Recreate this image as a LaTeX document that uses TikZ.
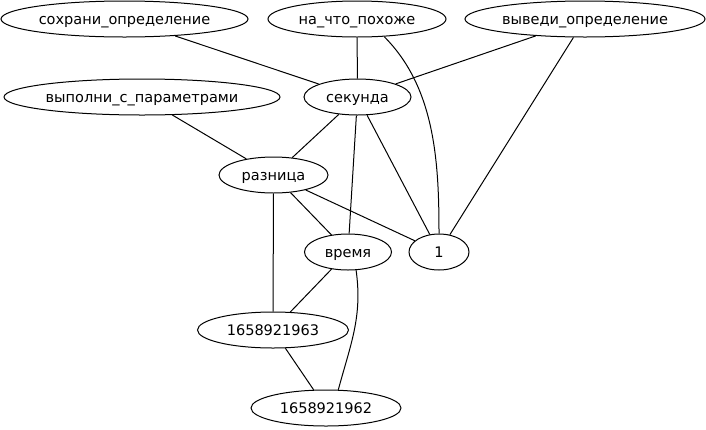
\documentclass[tikz,border=0pt]{standalone}
\usepackage{fontspec}
\setmainfont{DejaVu Sans}
\usetikzlibrary{shapes.geometric}
\tikzset{
  oval/.style={ellipse, draw=black, fill=white, inner sep=0pt,
    minimum height=27pt, text height=7.5pt, text depth=0pt,
    line width=0.75pt, font=\fontsize{10.9}{13}\selectfont},
  line/.style={line width=0.75pt, color=black}
}
\newcommand{\ovaltext}[1]{\makebox[0pt]{#1}}

\begin{document}
\begin{tikzpicture}[x=0.75pt, y=0.75pt]
  \useasboundingbox (0,0) rectangle (706,-429);
  \node[oval, minimum width=247*0.75pt] (save) at (124.5,-19) {\ovaltext{сохрани\_определение}};
  \node[oval, minimum width=178*0.75pt] (like) at (357,-19) {\ovaltext{на\_что\_похоже}};
  \node[oval, minimum width=240*0.75pt] (derive) at (585,-19) {\ovaltext{выведи\_определение}};
  \node[oval, minimum width=276*0.75pt] (run) at (142,-97) {\ovaltext{выполни\_с\_параметрами}};
  \node[oval, minimum width=107*0.75pt] (sec) at (357.5,-97) {\ovaltext{секунда}};
  \node[oval, minimum width=109*0.75pt] (diff) at (273.5,-175) {\ovaltext{разница}};
  \node[oval, minimum width=87*0.75pt] (time) at (348,-252) {\ovaltext{время}};
  \node[oval, minimum width=60*0.75pt] (one) at (439,-252) {\ovaltext{1}};
  \node[oval, minimum width=151*0.75pt] (tsa) at (273,-330) {\ovaltext{1658921963}};
  \node[oval, minimum width=150*0.75pt] (tsb) at (326,-408) {\ovaltext{1658921962}};

  \draw[line] (save) -- (sec);
  \draw[line] (like) -- (sec);
  \draw[line] (like.-33) to[out=-45, in=90, looseness=0.9] (one.north);
  \draw[line] (derive) -- (sec);
  \draw[line] (derive) -- (one);
  \draw[line] (run) -- (diff);
  \draw[line] (sec) -- (diff);
  \draw[line] (sec) -- (time);
  \draw[line] (sec) -- (one);
  \draw[line] (diff) -- (time);
  \draw[line] (diff) -- (one);
  \draw[line] (diff) -- (tsa);
  \draw[line] (time) -- (tsa);
  \draw[line] (time.-66) to[out=-82, in=75] (tsb.56);
  \draw[line] (tsa) -- (tsb);
\end{tikzpicture}
\end{document}
